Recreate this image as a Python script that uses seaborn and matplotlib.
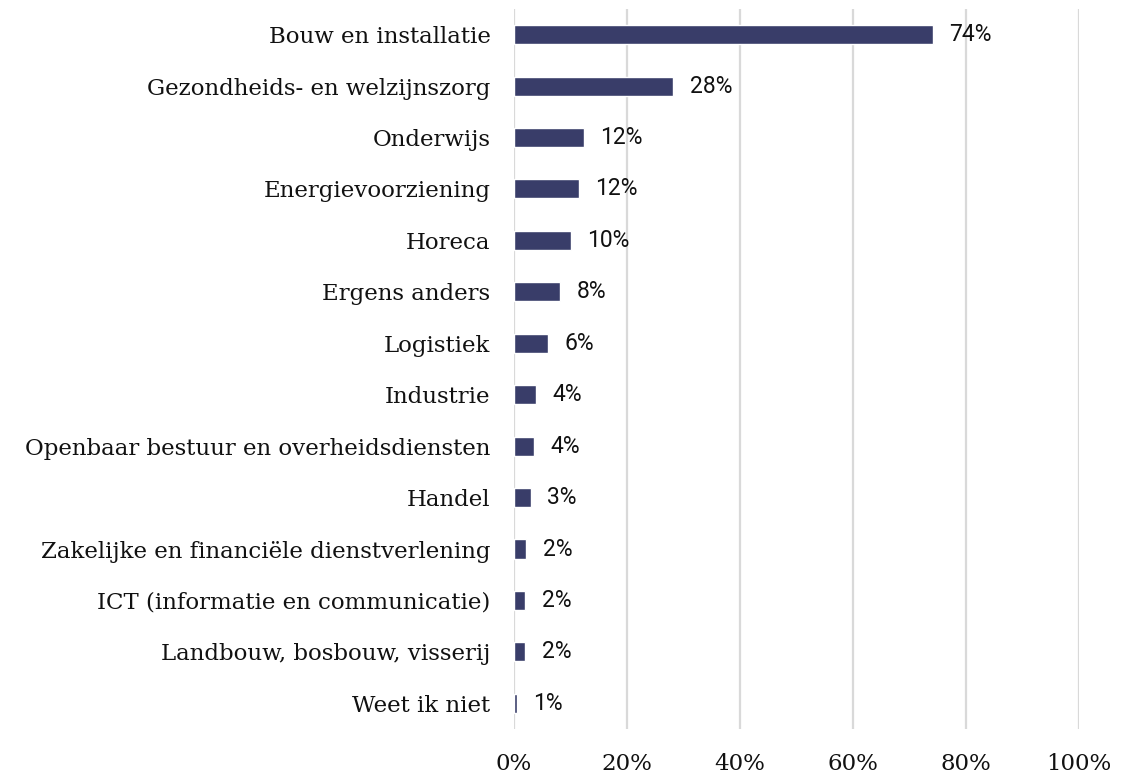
import matplotlib
matplotlib.use("Agg")
import matplotlib.pyplot as plt
import seaborn as sns
import pandas as pd

# ================= 数据 =================
categories = [
    "Bouw en installatie",
    "Gezondheids- en welzijnszorg",
    "Onderwijs",
    "Energievoorziening",
    "Horeca",
    "Ergens anders",
    "Logistiek",
    "Industrie",
    "Openbaar bestuur en overheidsdiensten",
    "Handel",
    "Zakelijke en financiële dienstverlening",
    "ICT (informatie en communicatie)",
    "Landbouw, bosbouw, visserij",
    "Weet ik niet",
]
percentages = [74.2, 28.2, 12.4, 11.5, 10.1, 8.2, 6.0, 3.9, 3.6, 3.0, 2.2, 2.0, 2.0, 0.5]
value_labels = ["74%", "28%", "12%", "12%", "10%", "8%", "6%", "4%", "4%", "3%", "2%", "2%", "2%", "1%"]
x_ticks = [0, 20, 40, 60, 80, 100]
# ========================================

BAR_COLOR = "#393d69"
GRID_COLOR = "#d9d9d9"

df = pd.DataFrame({"sector": categories, "pct": percentages})

sns.set_theme(style="white")
plt.rcParams["font.family"] = ["DejaVu Serif"]

fig = plt.figure(figsize=(11.36, 7.73), dpi=100)
ax = fig.add_axes([0.4525, 0.0569, 0.4973, 0.9315])

sns.barplot(data=df, x="pct", y="sector", orient="h", color=BAR_COLOR,
            saturation=1, width=0.37, ax=ax, zorder=3)

# 数值标签
for i, (v, lab) in enumerate(zip(percentages, value_labels)):
    ax.text(v + 2.9, i, lab, va="center", ha="left", fontsize=16.5,
            family="Roboto", color="#111111", zorder=4)

ax.set_xlim(0, 100)
ax.set_ylim(len(categories) - 0.5, -0.5)
ax.set_xticks(x_ticks)
ax.set_xticklabels([f"{t}%" for t in x_ticks], fontsize=16.5, color="#111111")
ax.tick_params(axis="x", length=0, pad=17)
ax.tick_params(axis="y", length=0, pad=17, labelsize=16.5, labelcolor="#111111")
ax.set_xlabel("")
ax.set_ylabel("")
for s in ax.spines.values():
    s.set_visible(False)
ax.xaxis.grid(True, color=GRID_COLOR, linewidth=1.6, zorder=0)
ax.yaxis.grid(False)
ax.set_axisbelow(True)

plt.savefig("out.png", dpi=100)
plt.close()
